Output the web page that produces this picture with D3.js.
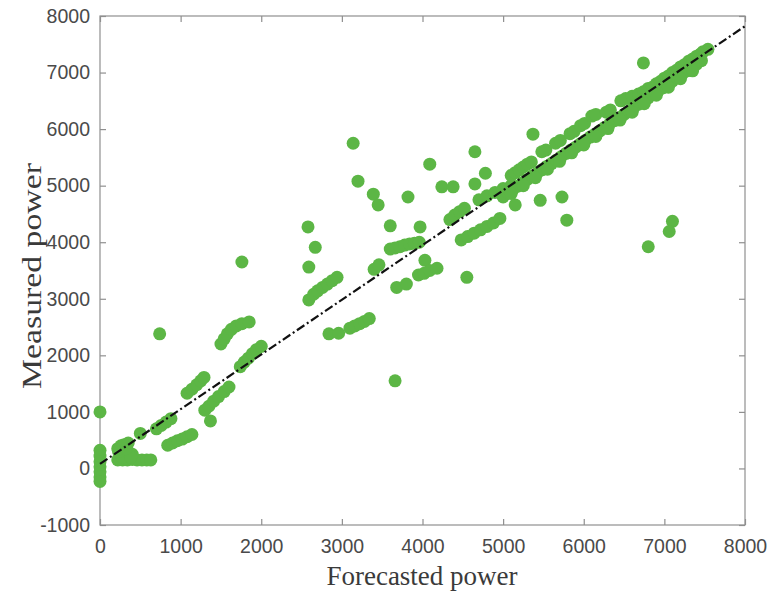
<!DOCTYPE html>
<html><head><meta charset="utf-8">
<script src="https://cdn.jsdelivr.net/npm/d3@7"></script>
<style>body{margin:0;background:#fff}svg{display:block}</style>
</head><body>
<script>
const xTicks=[0,1000,2000,3000,4000,5000,6000,7000,8000];
const yTicks=[-1000,0,1000,2000,3000,4000,5000,6000,7000,8000];
const fitLine=[[0,80],[8000,7820]];
const forecasted=[
0,0,0,0,0,0,0,0,
220,280,340,400,460,520,580,630,220,260,300,350,250,300,350,400,280,380,230,320,
500,700,760,820,880,
840,900,960,1020,1080,1140,
740,
1080,1140,1200,1250,1290,
1300,1350,1410,1470,1540,1600,
1370,1760,
1500,1540,1580,1630,1690,1760,1850,
1740,1790,1840,1890,1940,2000,
2580,2670,2590,
2590,2650,2700,2760,2820,2880,2940,
2840,2960,
3100,3160,3220,3280,3340,
3140,3200,3390,3450,3820,4090,4650,5370,4780,4240,4380,4650,3600,3970,
3600,3660,3720,3780,3840,3900,3960,
4030,3950,4020,4090,4180,4550,3680,3800,3400,3460,3660,
4340,4400,4460,4520,
4480,4560,4640,4720,4800,4880,4960,
4700,4800,4900,5000,5100,
5150,5460,5730,5790,
7100,7060,6800,6740,
5100,5150,5200,5250,5300,5350,5480,5530,5650,5710,5830,5880,5960,6010,6100,6150,6280,6330,6460,6520,6600,6680,6740,6800,6900,7000,7100,7200,7300,7400,7480,7540,6850,6950,7050,7150,7250,7350,7450,
5000,5060,5120,5180,5240,5300,5360,5420,5480,5540,5600,5660,5720,5780,5840,5900,5960,6020,6080,6140,6200,6260,6320,6380,6440,6500,6560,6620,6680,6740,6800,6860,6920,6980,7040,7100,7160,7220,7280,7340,7400,7460,
5100,5250,5400,5550,5700,5850,6000,6150,6300,6450,6600,6750,6900,7050,7200,7350
];
const measured=[
1000,320,220,120,30,-60,-150,-230,
150,150,150,160,150,150,150,150,350,400,420,450,250,280,300,250,200,200,300,350,
620,700,760,820,880,
410,450,490,520,560,600,
2380,
1330,1400,1480,1550,1610,
1030,1100,1190,1270,1360,1440,
840,3650,
2200,2290,2380,2460,2520,2560,2590,
1800,1880,1950,2030,2100,2160,
4270,3910,3560,
2980,3080,3140,3200,3260,3320,3380,
2380,2390,
2480,2520,2560,2600,2650,
5750,5080,4850,4660,4800,5380,5600,5910,5220,4980,4980,5030,4290,4270,
3880,3900,3920,3950,3970,3980,4000,
3680,3420,3450,3500,3540,3380,3200,3260,3520,3600,1550,
4400,4480,4540,4600,
4040,4100,4160,4220,4280,4340,4420,
4750,4820,4880,4950,5000,
4660,4740,4800,4390,
4370,4190,3920,7170,
5180,5230,5280,5330,5380,5420,5600,5630,5750,5800,5920,5960,6060,6100,6230,6260,6300,6340,6500,6540,6580,6620,6660,6720,6800,6900,7000,7100,7200,7290,7370,7410,6740,6840,6940,7040,7140,7240,7330,
4800,4870,4930,4990,5050,5110,5170,5220,5280,5340,5390,5450,5510,5570,5630,5680,5740,5800,5860,5910,5970,6030,6090,6150,6200,6260,6320,6380,6440,6500,6550,6610,6670,6730,6790,6850,6910,6970,7030,7090,7150,7210,
4860,5000,5140,5290,5430,5580,5720,5870,6010,6160,6300,6450,6600,6740,6890,7030
];

const W=767,H=591;
const L=100,R=745,T=16,B=525;
const svg=d3.select("body").append("svg").attr("width",W).attr("height",H);
const x=d3.scaleLinear().domain([0,8000]).range([L,R]);
const y=d3.scaleLinear().domain([-1000,8000]).range([B,T]);
const axisColor="#8f8f8f", labelColor="#4a4a4a";

svg.append("rect").attr("x",L).attr("y",T).attr("width",R-L).attr("height",B-T)
  .attr("fill","#fff").attr("stroke",axisColor).attr("stroke-width",1.2);

const fmt=d=>String(d);
const gx=svg.append("g").attr("transform",`translate(0,${B})`)
  .call(d3.axisBottom(x).tickValues(xTicks).tickSize(-6).tickPadding(14).tickFormat(fmt));
const gxt=svg.append("g").attr("transform",`translate(0,${T})`)
  .call(d3.axisTop(x).tickValues(xTicks).tickSize(-6).tickFormat(""));
const gy=svg.append("g").attr("transform",`translate(${L},0)`)
  .call(d3.axisLeft(y).tickValues(yTicks).tickSize(-6).tickPadding(10).tickFormat(fmt));
const gyr=svg.append("g").attr("transform",`translate(${R},0)`)
  .call(d3.axisRight(y).tickValues(yTicks).tickSize(-6).tickFormat(""));
[gx,gxt,gy,gyr].forEach(g=>{
  g.select(".domain").remove();
  g.selectAll(".tick line").attr("stroke",axisColor).attr("stroke-width",1.2);
  g.selectAll(".tick text").attr("fill",labelColor)
   .style("font-family","'Liberation Sans',Arial,sans-serif").style("font-size","19.5px");
});

svg.append("g").selectAll("circle").data(forecasted.map((f,i)=>[f,measured[i]]))
  .join("circle").attr("cx",d=>x(d[0])).attr("cy",d=>y(d[1])).attr("r",6.5)
  .attr("fill","#5cb645");

svg.append("path").datum(fitLine)
  .attr("d",d3.line().x(d=>x(d[0])).y(d=>y(d[1])))
  .attr("stroke","#111").attr("stroke-width",2.2).attr("fill","none")
  .attr("stroke-dasharray","9,3,2,3");

svg.append("text").attr("x",422).attr("y",585).attr("text-anchor","middle")
  .style("font-family","'Liberation Serif','Times New Roman',serif").style("font-size","27px")
  .attr("fill","#3a3a3a").text("Forecasted power");
svg.append("text").attr("transform",`translate(41,276) rotate(-90)`).attr("text-anchor","middle")
  .attr("textLength",226).attr("lengthAdjust","spacingAndGlyphs")
  .style("font-family","'Liberation Serif','Times New Roman',serif").style("font-size","28px")
  .attr("fill","#3a3a3a").text("Measured power");
</script>
</body></html>
